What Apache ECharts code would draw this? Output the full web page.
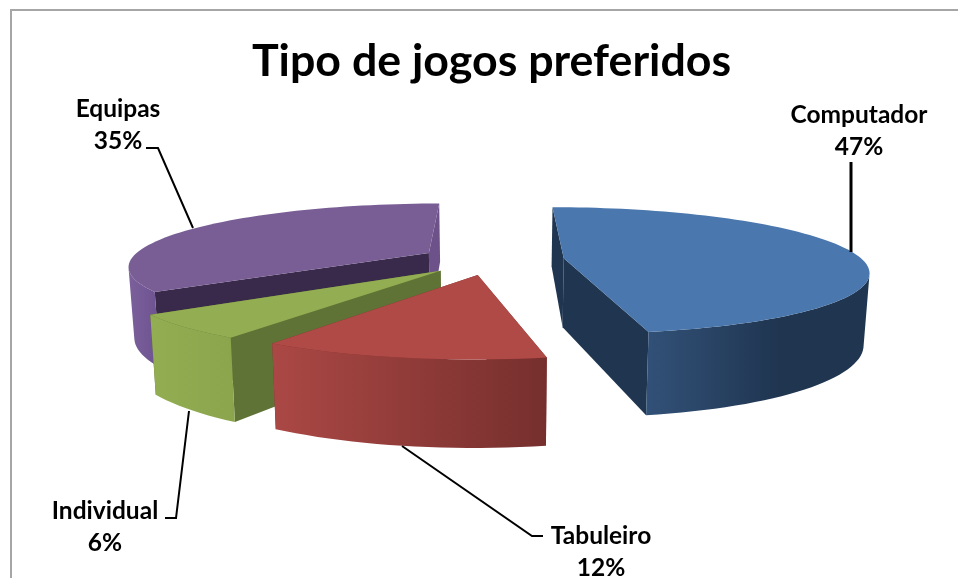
<!DOCTYPE html>
<html><head><meta charset="utf-8">
<style>html,body{margin:0;padding:0;background:#fff}#c{width:958px;height:578px}</style>
<script src="https://cdn.jsdelivr.net/npm/echarts@6/dist/echarts.min.js"></script>
</head><body><div id="c"></div>
<script>
var titleText = 'Tipo de jogos preferidos';
var categories = ['Computador', 'Tabuleiro', 'Individual', 'Equipas'];
var values = [47, 12, 6, 35];

// style and layout, apart from the data
var topColors = ['#4a77ad', '#b04a47', '#93ad52', '#795d95'];
var startFaceColors = ['#1f3550', '#7a2f2d', '#5f7336', '#39294a'];
var endFaceColors = ['#1f3550', '#7a2f2d', '#5f7336', '#6c5289'];
var wallStops = [
  [[0, '#325178'], [0.6, '#1f3550'], [1, '#1f3550']],
  [[0, '#ab4845'], [1, '#762f2d']],
  [[0, '#93ad52'], [1, '#8ba54d']],
  [[0, '#7b609b'], [1, '#6c5290']]
];
var labelPositions = [[859, 115], [601, 536], [105, 511], [118, 109]];
var leaderPaths = [
  [[851, 162], [851, 252]],
  [[402, 446], [532, 536], [543, 536]],
  [[165, 518], [176, 518], [189, 411]],
  [[146, 148], [158, 148], [193, 228]]
];
var leaderWidths = [3, 2, 2, 2];
var camera = { vx: 494, hy: -59, G: 317, D: 1550, R: 297, H: 69, cx: -2, cy: -8, explode: 72, pitch: 0.00023, heightPower: 0.9 };

var total = values.reduce(function (a, b) { return a + b; }, 0);
function project(X, Y, Z) {
  var c = camera, s = c.D / (c.D + Y);
  return [c.vx + X * s * (1 - c.pitch * Z), c.hy + c.G * s + Z * Math.pow(s, c.heightPower)];
}
function sliceGeometry(a0, a1) {
  var c = camera, mid = (a0 + a1) / 2;
  var ox = c.cx + c.explode * Math.sin(mid), oy = c.cy + c.explode * Math.cos(mid);
  function rim(a, Z) { return project(ox + c.R * Math.sin(a), oy + c.R * Math.cos(a), Z); }
  function centre(Z) { return project(ox, oy, Z); }
  function faces(a) {
    var X = ox + c.R * Math.sin(a), Y = oy + c.R * Math.cos(a);
    return -X * Math.sin(a) - (c.D + Y) * Math.cos(a) > 0;
  }
  var n = Math.max(2, Math.ceil((a1 - a0) / (Math.PI / 90)));
  var angles = [];
  for (var i = 0; i <= n; i++) angles.push(a0 + (a1 - a0) * i / n);
  return { rim: rim, centre: centre, angles: angles, faces: faces };
}

function renderItem(params, api) {
  var idx = params.dataIndex, c = camera, before = 0;
  for (var k = 0; k < idx; k++) before += values[k];
  var a0 = before / total * 2 * Math.PI;
  var a1 = (before + api.value(0)) / total * 2 * Math.PI;
  var g = sliceGeometry(a0, a1);
  var base = (3 - idx) * 10;
  function poly(points, fill, order) {
    return { type: 'polygon', z2: base + order, shape: { points: points }, style: { fill: fill, stroke: null } };
  }
  var children = [];
  children.push(poly([g.centre(0), g.rim(a0, 0), g.rim(a0, c.H), g.centre(c.H)], startFaceColors[idx], 1));
  children.push(poly([g.centre(0), g.rim(a1, 0), g.rim(a1, c.H), g.centre(c.H)], endFaceColors[idx], 1));
  var front = g.angles.filter(g.faces);
  if (front.length > 1) {
    var wall = front.map(function (a) { return g.rim(a, 0); })
      .concat(front.slice().reverse().map(function (a) { return g.rim(a, c.H); }));
    children.push(poly(wall, new echarts.graphic.LinearGradient(0, 0, 1, 0, wallStops[idx].map(function (s) {
      return { offset: s[0], color: s[1] };
    })), 2));
  }
  var top = [g.centre(0)].concat(g.angles.map(function (a) { return g.rim(a, 0); }));
  children.push(poly(top, topColors[idx], 3));
  children.push({ type: 'polyline', z2: 60, shape: { points: leaderPaths[idx] },
    style: { stroke: '#000', lineWidth: leaderWidths[idx], fill: null } });
  var pos = labelPositions[idx];
  var lines = [categories[idx], api.value(0) + '%'];
  lines.forEach(function (t, i) {
    children.push({ type: 'text', z2: 61, style: {
      text: t, x: pos[0], y: pos[1] + i * 32, align: 'center', verticalAlign: 'middle',
      fontFamily: 'Lato', fontWeight: 'bold', fontSize: 24.5, fill: '#000' } });
  });
  return { type: 'group', children: children };
}

var chart = echarts.init(document.getElementById('c'), null, { renderer: 'canvas' });
chart.setOption({
  animation: false,
  backgroundColor: '#fff',
  title: { text: titleText, left: 247, top: 34, textStyle: { fontFamily: 'Lato', fontWeight: 'bold', fontSize: 44.7, color: '#000' } },
  graphic: [{ type: 'polyline', z: 0, shape: { points: [[11, 578], [11, 10], [958, 10]] }, style: { stroke: '#a6a6a6', lineWidth: 2, fill: null } }],
  series: [{ type: 'custom', coordinateSystem: 'none', renderItem: renderItem, data: values.map(function (v) { return [v]; }) }]
});
</script></body></html>
